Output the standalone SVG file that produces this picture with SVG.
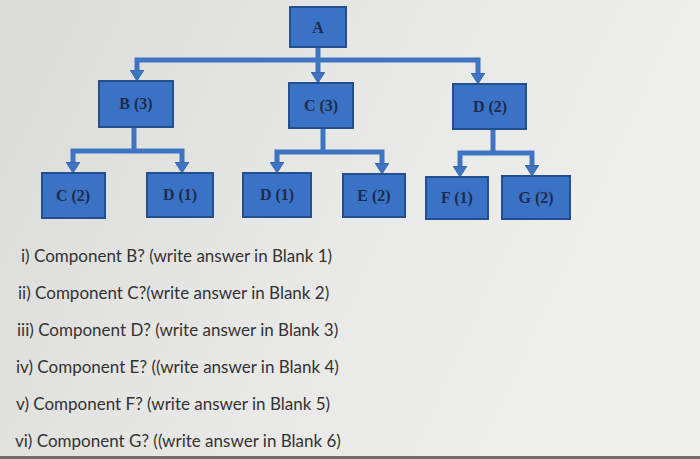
<svg xmlns="http://www.w3.org/2000/svg" width="700" height="459" viewBox="0 0 700 459">
<defs>
<linearGradient id="bg" x1="0" y1="0" x2="1" y2="0.3">
<stop offset="0" stop-color="#dadad8"/>
<stop offset="0.5" stop-color="#e7e7e5"/>
<stop offset="1" stop-color="#efefed"/>
</linearGradient>
<marker id="ah" viewBox="0 0 11 14" refX="0" refY="7" markerWidth="11" markerHeight="14" markerUnits="userSpaceOnUse" orient="auto">
<path d="M0,0 L11,7 L0,14 Z" fill="#3f74c2" stroke="#2d5ea6" stroke-width="0.8"/>
</marker>
<style>
.box{fill:#3a73c5;stroke:#22508e;stroke-width:2}
.lbl{font-family:"Liberation Serif","Times New Roman",serif;font-weight:bold;font-size:16px;fill:#1d2b4c;text-anchor:middle}
.conn{fill:none;stroke:#3f74c2;stroke-width:5;stroke-linejoin:miter;marker-end:url(#ah)}
.trunk{fill:none;stroke:#3f74c2;stroke-width:5}
.q{font-family:Lato,"Liberation Sans",sans-serif;font-size:17px;fill:#333333}
</style>
</defs>
<rect width="700" height="459" fill="url(#bg)"/>
<rect x="0" y="456" width="700" height="3" fill="#6e6e6c"/>

<g id="connectors">
<path class="trunk" d="M318,47 V60"/>
<path class="conn" d="M318,60 H137 V70"/>
<path class="conn" d="M318,60 V72"/>
<path class="conn" d="M318,60 H478 V73"/>

<path class="trunk" d="M134,127 V151"/>
<path class="conn" d="M134,151 H73 V162"/>
<path class="conn" d="M134,151 H182 V162"/>

<path class="trunk" d="M323,128 V152"/>
<path class="conn" d="M323,152 H277 V162"/>
<path class="conn" d="M323,152 H382 V163"/>

<path class="trunk" d="M493,129 V153"/>
<path class="conn" d="M493,153 H460 V166"/>
<path class="conn" d="M493,153 H532 V165"/>
</g>

<g id="node-A"><rect class="box" x="290" y="7" width="56" height="40"/><text class="lbl" x="318" y="33">A</text></g>
<g id="node-B3"><rect class="box" x="99" y="81" width="74" height="46"/><text class="lbl" x="136" y="109">B (3)</text></g>
<g id="node-C3"><rect class="box" x="289" y="83" width="64" height="45"/><text class="lbl" x="321" y="111">C (3)</text></g>
<g id="node-D2"><rect class="box" x="453" y="84" width="73" height="45"/><text class="lbl" x="490" y="112">D (2)</text></g>

<g id="node-C2"><rect class="box" x="42" y="173" width="63" height="45"/><text class="lbl" x="73" y="201">C (2)</text></g>
<g id="node-D1a"><rect class="box" x="147" y="173" width="66" height="44"/><text class="lbl" x="180" y="200">D (1)</text></g>
<g id="node-D1b"><rect class="box" x="243" y="173" width="68" height="44"/><text class="lbl" x="277" y="200">D (1)</text></g>
<g id="node-E2"><rect class="box" x="343" y="174" width="62" height="43"/><text class="lbl" x="374" y="201">E (2)</text></g>
<g id="node-F1"><rect class="box" x="426" y="177" width="62" height="42"/><text class="lbl" x="457" y="203">F (1)</text></g>
<g id="node-G2"><rect class="box" x="502" y="176" width="68" height="43"/><text class="lbl" x="536" y="203">G (2)</text></g>

<g id="questions">
<text class="q" x="21" y="262">i) Component B? (write answer in Blank 1)</text>
<text class="q" x="18" y="299">ii) Component C?(write answer in Blank 2)</text>
<text class="q" x="17" y="336">iii) Component D? (write answer in Blank 3)</text>
<text class="q" x="16" y="373">iv) Component E? ((write answer in Blank 4)</text>
<text class="q" x="16" y="410">v) Component F? (write answer in Blank 5)</text>
<text class="q" x="15" y="447">vi) Component G? ((write answer in Blank 6)</text>
</g>
</svg>
